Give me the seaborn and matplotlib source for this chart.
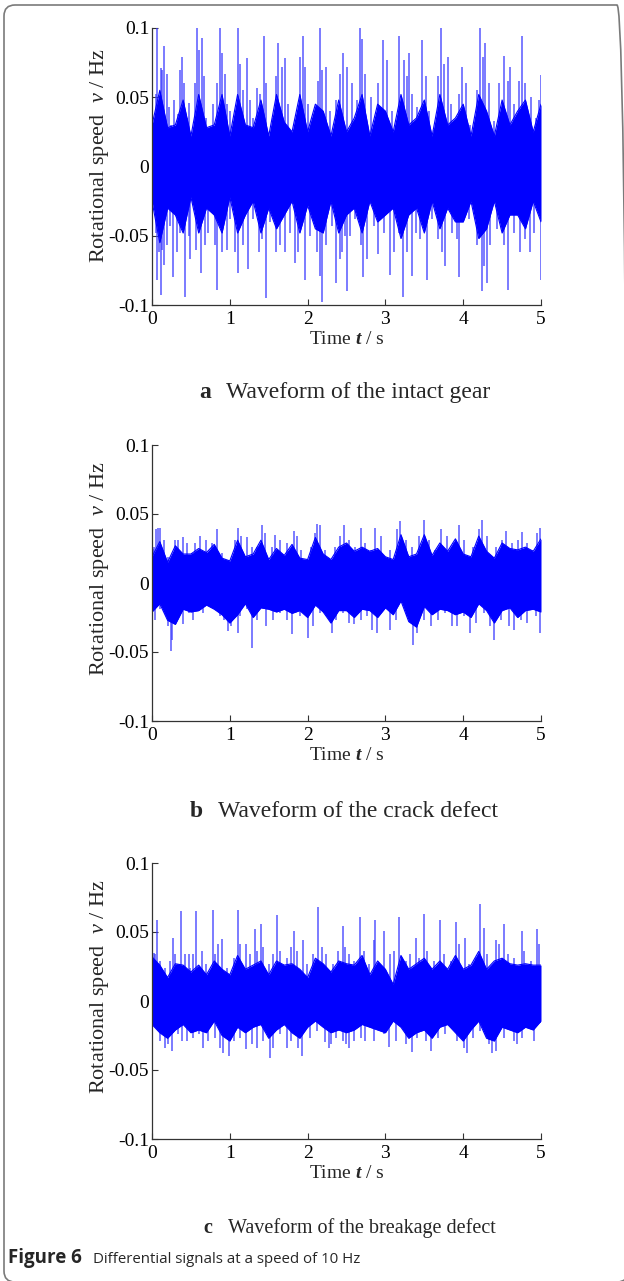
import numpy as np
import pandas as pd
import matplotlib
matplotlib.use("Agg")
import matplotlib.pyplot as plt
import seaborn as sns
from matplotlib.patches import FancyBboxPatch

# ---------------- data ----------------
time_grid = [0.0, 0.1, 0.2, 0.3, 0.4, 0.5, 0.6, 0.7, 0.8, 0.9,
             1.0, 1.1, 1.2, 1.3, 1.4, 1.5, 1.6, 1.7, 1.8, 1.9,
             2.0, 2.1, 2.2, 2.3, 2.4, 2.5, 2.6, 2.7, 2.8, 2.9,
             3.0, 3.1, 3.2, 3.3, 3.4, 3.5, 3.6, 3.7, 3.8, 3.9,
             4.0, 4.1, 4.2, 4.3, 4.4, 4.5, 4.6, 4.7, 4.8, 4.9, 5.0]

# (a) intact gear: dense body envelope, tall spikes, and fringe spikes
a_upper = [0.030, 0.055, 0.028, 0.030, 0.048, 0.022, 0.052, 0.028, 0.030, 0.052,
           0.022, 0.052, 0.030, 0.028, 0.048, 0.022, 0.052, 0.032, 0.025, 0.052,
           0.025, 0.045, 0.040, 0.022, 0.048, 0.025, 0.035, 0.052, 0.022, 0.045,
           0.040, 0.025, 0.052, 0.030, 0.035, 0.048, 0.022, 0.052, 0.030, 0.035,
           0.045, 0.022, 0.052, 0.040, 0.022, 0.048, 0.030, 0.040, 0.048, 0.025, 0.045]
a_lower = [-0.025, -0.055, -0.030, -0.035, -0.048, -0.022, -0.048, -0.030, -0.035, -0.048,
           -0.022, -0.048, -0.035, -0.025, -0.048, -0.030, -0.045, -0.035, -0.025, -0.048,
           -0.028, -0.045, -0.048, -0.025, -0.048, -0.035, -0.030, -0.048, -0.025, -0.040,
           -0.035, -0.030, -0.052, -0.035, -0.030, -0.048, -0.025, -0.045, -0.030, -0.040,
           -0.040, -0.025, -0.052, -0.045, -0.025, -0.048, -0.035, -0.035, -0.045, -0.025, -0.040]
a_peak_t = [0.07, 0.11, 0.16, 0.38, 0.47, 0.58, 0.64, 0.88, 0.90, 1.11, 1.22, 1.35, 1.44,
            1.62, 1.71, 1.90, 1.94, 2.16, 2.24, 2.45, 2.67, 2.70, 2.97, 3.18, 3.30, 3.47,
            3.71, 3.80, 3.99, 4.22, 4.28, 4.52, 4.60, 4.76, 5.00]
a_peak_v = [0.100, 0.071, 0.087, 0.079, 0.046, 0.100, 0.093, 0.100, 0.082, 0.100, 0.078, 0.057, 0.094,
            0.089, 0.078, 0.079, 0.094, 0.100, 0.072, 0.082, 0.100, 0.092, 0.091, 0.094, 0.082, 0.091,
            0.100, 0.079, 0.072, 0.100, 0.089, 0.080, 0.072, 0.094, 0.066]
a_trough_t = [0.07, 0.11, 0.15, 0.27, 0.42, 0.49, 0.63, 0.84, 0.96, 1.11, 1.24, 1.47, 1.59,
              1.71, 1.84, 1.97, 2.16, 2.19, 2.37, 2.42, 2.51, 2.71, 2.91, 3.06, 3.22, 3.34,
              3.54, 3.77, 3.95, 4.24, 4.30, 4.58, 4.73, 4.86, 5.00]
a_trough_v = [-0.082, -0.093, -0.071, -0.080, -0.094, -0.067, -0.077, -0.089, -0.060, -0.077, -0.074, -0.095, -0.062,
              -0.062, -0.070, -0.082, -0.079, -0.098, -0.084, -0.067, -0.090, -0.080, -0.063, -0.078, -0.094, -0.079,
              -0.082, -0.072, -0.080, -0.090, -0.084, -0.089, -0.062, -0.062, -0.082]
a_fringe_up_t = [0.02, 0.05, 0.13, 0.19, 0.22, 0.25, 0.28, 0.33, 0.36, 0.41, 0.45, 0.52, 0.55, 0.61,
                 0.67, 0.70, 0.75, 0.79, 0.84, 0.94, 0.97, 1.00, 1.05, 1.13, 1.17, 1.26, 1.30, 1.39,
                 1.47, 1.52, 1.56, 1.60, 1.67, 1.75, 1.79, 1.84, 1.97, 2.01, 2.05, 2.09, 2.14, 2.19,
                 2.29, 2.33, 2.37, 2.42, 2.51, 2.57, 2.64, 2.74, 2.81, 2.85, 2.91, 3.02, 3.09, 3.13,
                 3.24, 3.28, 3.34, 3.41, 3.52, 3.56, 3.62, 3.67, 3.75, 3.84, 3.90, 3.94, 4.03, 4.09,
                 4.18, 4.26, 4.33, 4.40, 4.46, 4.57, 4.65, 4.72, 4.80, 4.87, 4.93, 4.97]
a_fringe_up_v = [0.013, 0.052, 0.070, 0.067, 0.043, 0.030, 0.048, 0.038, 0.070, 0.060, 0.035, 0.016, 0.060, 0.084,
                 0.065, 0.035, 0.011, 0.045, 0.060, 0.067, 0.045, 0.040, 0.028, 0.074, 0.055, 0.048, 0.035, 0.052,
                 0.060, 0.018, 0.035, 0.065, 0.072, 0.045, 0.016, 0.028, 0.072, 0.045, 0.018, 0.028, 0.062, 0.070,
                 0.040, 0.023, 0.048, 0.067, 0.072, 0.060, 0.048, 0.067, 0.050, 0.023, 0.060, 0.077, 0.040, 0.023,
                 0.077, 0.065, 0.052, 0.043, 0.065, 0.040, 0.026, 0.065, 0.074, 0.045, 0.030, 0.052, 0.060, 0.030,
                 0.055, 0.079, 0.060, 0.033, 0.060, 0.062, 0.045, 0.062, 0.060, 0.050, 0.035, 0.048]
a_fringe_lo_t = [0.02, 0.05, 0.09, 0.13, 0.19, 0.23, 0.32, 0.36, 0.47, 0.53, 0.57, 0.68, 0.72, 0.77,
                 0.81, 0.90, 1.00, 1.07, 1.17, 1.30, 1.37, 1.41, 1.52, 1.65, 1.77, 1.88, 2.03, 2.07,
                 2.12, 2.24, 2.31, 2.44, 2.48, 2.55, 2.61, 2.68, 2.76, 2.85, 2.98, 3.11, 3.17, 3.28,
                 3.39, 3.45, 3.60, 3.67, 3.73, 3.86, 3.92, 4.07, 4.18, 4.27, 4.35, 4.44, 4.52, 4.65,
                 4.80, 4.91]
a_fringe_lo_v = [-0.021, -0.048, -0.062, -0.060, -0.057, -0.043, -0.062, -0.048, -0.050, -0.028, -0.060, -0.057,
                 -0.048, -0.030, -0.057, -0.062, -0.038, -0.062, -0.057, -0.038, -0.062, -0.052, -0.040, -0.057,
                 -0.048, -0.062, -0.050, -0.038, -0.062, -0.057, -0.043, -0.062, -0.050, -0.050, -0.038, -0.057,
                 -0.067, -0.043, -0.048, -0.062, -0.048, -0.062, -0.048, -0.052, -0.038, -0.052, -0.062, -0.048,
                 -0.052, -0.038, -0.057, -0.072, -0.057, -0.045, -0.057, -0.048, -0.052, -0.048]

# (b) crack defect
b_upper = [0.019, 0.030, 0.015, 0.027, 0.021, 0.021, 0.025, 0.022, 0.028, 0.018,
           0.016, 0.031, 0.019, 0.021, 0.031, 0.017, 0.025, 0.020, 0.028, 0.018,
           0.017, 0.033, 0.021, 0.017, 0.026, 0.029, 0.023, 0.026, 0.023, 0.025,
           0.019, 0.017, 0.035, 0.019, 0.021, 0.035, 0.020, 0.029, 0.023, 0.032,
           0.021, 0.019, 0.034, 0.023, 0.018, 0.029, 0.025, 0.024, 0.026, 0.023, 0.032]
b_lower = [-0.021, -0.015, -0.027, -0.030, -0.019, -0.021, -0.020, -0.016, -0.019, -0.023,
           -0.029, -0.023, -0.015, -0.025, -0.018, -0.019, -0.021, -0.019, -0.022, -0.020,
           -0.025, -0.016, -0.021, -0.029, -0.020, -0.020, -0.025, -0.019, -0.020, -0.025,
           -0.018, -0.023, -0.013, -0.028, -0.032, -0.017, -0.023, -0.019, -0.020, -0.023,
           -0.021, -0.025, -0.015, -0.020, -0.029, -0.020, -0.018, -0.025, -0.020, -0.019, -0.021]
b_peak_t = [0.01, 0.08, 0.10, 0.30, 0.40, 0.62, 0.83, 1.11, 1.22, 1.42, 1.58, 1.82, 2.12,
            2.16, 2.47, 2.69, 2.87, 3.19, 3.50, 3.71, 3.94, 4.24, 4.55, 4.76, 4.99]
b_peak_v = [0.025, 0.040, 0.040, 0.031, 0.033, 0.034, 0.039, 0.040, 0.033, 0.042, 0.035, 0.038, 0.043,
            0.042, 0.042, 0.040, 0.040, 0.045, 0.046, 0.039, 0.042, 0.046, 0.038, 0.037, 0.040]
b_trough_t = [0.00, 0.25, 0.26, 0.40, 0.88, 0.98, 1.10, 1.29, 1.47, 1.80, 2.00, 2.16,
              2.31, 2.59, 2.89, 3.06, 3.36, 3.58, 3.92, 4.09, 4.40, 4.65, 4.99]
b_trough_v = [-0.035, -0.049, -0.041, -0.030, -0.024, -0.035, -0.036, -0.047, -0.031, -0.037, -0.040, -0.022,
              -0.036, -0.030, -0.036, -0.034, -0.045, -0.031, -0.031, -0.036, -0.041, -0.034, -0.036]
b_fringe_up_t = [0.02, 0.05, 0.15, 0.21, 0.34, 0.45, 0.51, 0.55, 0.70, 0.77, 0.90, 0.96, 1.07, 1.15,
                 1.28, 1.35, 1.45, 1.54, 1.65, 1.73, 1.86, 1.92, 2.05, 2.09, 2.22, 2.35, 2.42, 2.53,
                 2.61, 2.74, 2.81, 2.94, 3.06, 3.15, 3.26, 3.34, 3.43, 3.56, 3.64, 3.79, 3.88, 4.01,
                 4.12, 4.20, 4.31, 4.42, 4.50, 4.63, 4.70, 4.82, 4.89, 4.95]
b_fringe_up_v = [0.026, 0.039, 0.031, 0.019, 0.031, 0.029, 0.022, 0.029, 0.031, 0.029, 0.022, 0.017, 0.031, 0.034,
                 0.026, 0.026, 0.036, 0.026, 0.031, 0.029, 0.034, 0.024, 0.026, 0.036, 0.024, 0.026, 0.034, 0.031,
                 0.026, 0.029, 0.024, 0.034, 0.024, 0.039, 0.031, 0.026, 0.034, 0.031, 0.024, 0.034, 0.029, 0.031,
                 0.026, 0.039, 0.034, 0.026, 0.031, 0.029, 0.031, 0.029, 0.024, 0.036]
b_fringe_lo_t = [0.04, 0.10, 0.21, 0.32, 0.47, 0.53, 0.66, 0.77, 0.92, 1.02, 1.13, 1.22, 1.35, 1.56,
                 1.65, 1.73, 1.90, 2.07, 2.24, 2.37, 2.46, 2.53, 2.68, 2.76, 2.83, 2.98, 3.13, 3.28,
                 3.41, 3.49, 3.67, 3.77, 3.86, 4.01, 4.16, 4.27, 4.35, 4.48, 4.59, 4.74, 4.82, 4.93]
b_fringe_lo_v = [-0.027, -0.019, -0.031, -0.024, -0.022, -0.027, -0.022, -0.017, -0.027, -0.031, -0.024, -0.019,
                 -0.027, -0.027, -0.022, -0.027, -0.024, -0.031, -0.022, -0.027, -0.022, -0.029, -0.027, -0.024,
                 -0.034, -0.019, -0.027, -0.024, -0.036, -0.027, -0.027, -0.022, -0.031, -0.024, -0.029, -0.022,
                 -0.031, -0.027, -0.031, -0.027, -0.029, -0.024]

# (c) breakage defect
c_upper = [0.032, 0.026, 0.017, 0.027, 0.026, 0.021, 0.026, 0.019, 0.029, 0.023,
           0.019, 0.033, 0.023, 0.026, 0.029, 0.019, 0.029, 0.026, 0.027, 0.023,
           0.017, 0.031, 0.027, 0.021, 0.029, 0.027, 0.026, 0.033, 0.019, 0.029,
           0.023, 0.012, 0.033, 0.023, 0.027, 0.031, 0.023, 0.029, 0.023, 0.033,
           0.023, 0.026, 0.036, 0.023, 0.029, 0.031, 0.027, 0.026, 0.027, 0.026, 0.026]
c_lower = [-0.017, -0.023, -0.027, -0.021, -0.017, -0.023, -0.021, -0.023, -0.0145, -0.025,
           -0.029, -0.019, -0.023, -0.019, -0.017, -0.027, -0.021, -0.017, -0.023, -0.027,
           -0.019, -0.0145, -0.019, -0.023, -0.021, -0.023, -0.021, -0.017, -0.019, -0.021,
           -0.023, -0.0145, -0.019, -0.027, -0.023, -0.021, -0.027, -0.019, -0.017, -0.023,
           -0.029, -0.021, -0.0145, -0.027, -0.029, -0.019, -0.021, -0.023, -0.019, -0.021, -0.0145]
c_peak_t = [0.02, 0.06, 0.27, 0.37, 0.47, 0.57, 0.78, 0.90, 1.10, 1.21, 1.32, 1.40, 1.61,
            1.82, 1.94, 2.14, 2.45, 2.67, 2.87, 2.98, 3.18, 3.39, 3.49, 3.70, 3.91, 4.02,
            4.22, 4.42, 4.53, 4.75, 4.95]
c_peak_v = [0.035, 0.059, 0.046, 0.065, 0.034, 0.065, 0.066, 0.045, 0.066, 0.041, 0.052, 0.056, 0.062,
            0.051, 0.044, 0.068, 0.054, 0.061, 0.059, 0.051, 0.061, 0.046, 0.063, 0.059, 0.057, 0.046,
            0.070, 0.044, 0.056, 0.051, 0.052]
c_trough_t = [0.00, 0.17, 0.26, 0.39, 0.66, 0.91, 0.99, 1.21, 1.35, 1.52, 1.73, 1.93,
              2.22, 2.30, 2.53, 2.74, 3.04, 3.34, 3.59, 4.05, 4.37, 4.69, 5.00]
c_trough_v = [-0.017, -0.034, -0.036, -0.029, -0.034, -0.038, -0.040, -0.035, -0.034, -0.041, -0.034, -0.040,
              -0.030, -0.031, -0.034, -0.029, -0.033, -0.037, -0.036, -0.038, -0.038, -0.031, -0.016]
c_fringe_up_t = [0.04, 0.10, 0.17, 0.23, 0.30, 0.34, 0.42, 0.49, 0.53, 0.64, 0.70, 0.81, 0.85, 0.96,
                 1.05, 1.13, 1.26, 1.35, 1.43, 1.50, 1.56, 1.65, 1.73, 1.79, 1.86, 1.99, 2.07, 2.18,
                 2.24, 2.33, 2.39, 2.48, 2.53, 2.59, 2.72, 2.79, 2.85, 2.91, 3.06, 3.11, 3.26, 3.32,
                 3.43, 3.54, 3.62, 3.75, 3.84, 3.94, 4.07, 4.16, 4.27, 4.31, 4.46, 4.57, 4.65, 4.78,
                 4.87, 4.97]
c_fringe_up_v = [0.034, 0.029, 0.024, 0.029, 0.034, 0.027, 0.034, 0.024, 0.034, 0.036, 0.027, 0.034, 0.041, 0.024,
                 0.031, 0.041, 0.034, 0.036, 0.039, 0.027, 0.034, 0.036, 0.031, 0.039, 0.036, 0.027, 0.034, 0.039,
                 0.034, 0.027, 0.036, 0.039, 0.034, 0.029, 0.036, 0.027, 0.044, 0.024, 0.034, 0.036, 0.029, 0.034,
                 0.031, 0.036, 0.029, 0.034, 0.029, 0.041, 0.027, 0.031, 0.053, 0.034, 0.041, 0.034, 0.031, 0.036,
                 0.029, 0.041]
c_fringe_lo_t = [0.04, 0.10, 0.21, 0.34, 0.45, 0.53, 0.60, 0.72, 0.81, 0.87, 1.05, 1.13, 1.28, 1.43,
                 1.56, 1.65, 1.79, 1.88, 2.03, 2.12, 2.27, 2.37, 2.46, 2.49, 2.59, 2.68, 2.85, 2.98,
                 3.13, 3.26, 3.41, 3.52, 3.67, 3.77, 3.92, 4.01, 4.12, 4.22, 4.33, 4.42, 4.52, 4.65,
                 4.76, 4.91]
c_fringe_lo_v = [-0.019, -0.029, -0.031, -0.024, -0.029, -0.027, -0.024, -0.029, -0.027, -0.034, -0.029, -0.027,
                 -0.031, -0.029, -0.034, -0.024, -0.029, -0.034, -0.027, -0.022, -0.034, -0.027, -0.029, -0.031,
                 -0.029, -0.027, -0.029, -0.024, -0.029, -0.031, -0.027, -0.029, -0.027, -0.024, -0.029, -0.034,
                 -0.027, -0.022, -0.031, -0.036, -0.027, -0.029, -0.027, -0.029]

x_ticks = [0, 1, 2, 3, 4, 5]
x_tick_labels = ["0", "1", "2", "3", "4", "5"]
y_ticks = [-0.1, -0.05, 0.0, 0.05, 0.1]
y_tick_labels = ["-0.1", "-0.05", "0", "0.05", "0.1"]

panel_letters = ["a", "b", "c"]
panel_titles = ["Waveform of the intact gear", "Waveform of the crack defect",
                "Waveform of the breakage defect"]
figure_label = "Figure 6"
figure_caption = "Differential signals at a speed of 10 Hz"

# ---------------- style ----------------
sns.set_theme(style="ticks")
plt.rcParams["font.family"] = ["Liberation Serif", "DejaVu Serif"]
plt.rcParams["mathtext.fontset"] = "custom"
plt.rcParams["mathtext.rm"] = "Liberation Serif"
plt.rcParams["mathtext.it"] = "Liberation Serif:italic"
plt.rcParams["mathtext.bf"] = "Liberation Serif:bold"
try:
    plt.rcParams["mathtext.bfit"] = "Liberation Serif:bold:italic"
    XLAB = r"Time $\mathbfit{t}$ / s"
except KeyError:
    XLAB = r"Time $\mathit{t}$ / s"

W, H = 624, 1281
BLUE = "#0000ff"
SPIKE = "#3a3aff"
fig = plt.figure(figsize=(W / 100, H / 100), dpi=100)
fig.patch.set_facecolor("white")


def rect(left, top, right, bottom):
    return [left / W, 1 - bottom / H, (right - left) / W, (bottom - top) / H]


panels = [
    (rect(152, 28, 541, 305), a_upper, a_lower, 0.538,
     [(a_peak_t, a_peak_v), (a_trough_t, a_trough_v), (a_fringe_up_t, a_fringe_up_v), (a_fringe_lo_t, a_fringe_lo_v)]),
    (rect(152, 445, 541, 721), b_upper, b_lower, 0.553,
     [(b_peak_t, b_peak_v), (b_trough_t, b_trough_v), (b_fringe_up_t, b_fringe_up_v), (b_fringe_lo_t, b_fringe_lo_v)]),
    (rect(152, 863, 541, 1139), c_upper, c_lower, 0.553,
     [(c_peak_t, c_peak_v), (c_trough_t, c_trough_v), (c_fringe_up_t, c_fringe_up_v), (c_fringe_lo_t, c_fringe_lo_v)]),
]

for pos, up, lo, ylab_y, spikes in panels:
    ax = fig.add_axes(pos)
    df = pd.DataFrame({"t": time_grid, "upper": up, "lower": lo})
    for st, sv in spikes:
        ax.vlines(st, 0, sv, color=SPIKE, lw=1.1, alpha=0.85, zorder=1.5)
    ax.fill_between(df["t"], df["lower"], df["upper"], color=BLUE, lw=0, zorder=2)
    sns.lineplot(data=df, x="t", y="upper", ax=ax, color=BLUE, lw=0.8, zorder=2.1)
    sns.lineplot(data=df, x="t", y="lower", ax=ax, color=BLUE, lw=0.8, zorder=2.1)
    ax.set_xlim(0, 5)
    ax.set_ylim(-0.1, 0.1)
    ax.set_xticks(x_ticks)
    ax.set_xticklabels(x_tick_labels)
    ax.set_yticks(y_ticks)
    ax.set_yticklabels(y_tick_labels)
    sns.despine(ax=ax)
    for s in ("left", "bottom"):
        ax.spines[s].set_color("#333333")
        ax.spines[s].set_linewidth(0.9)
        ax.spines[s].set_zorder(3)
    ax.tick_params(axis="both", direction="in", length=4, width=0.8, colors="#333333",
                   labelsize=14, labelcolor="black")
    ax.tick_params(axis="x", pad=4)
    ax.tick_params(axis="y", pad=2)
    ax.set_xlabel(XLAB, fontsize=14)
    ax.set_ylabel(r"Rotational speed  $\mathit{v}$ / Hz", fontsize=16)
    ax.xaxis.label.set_va("center")
    ax.yaxis.label.set_va("center")
    ax.xaxis.set_label_coords(0.5, -0.126)
    ax.yaxis.set_label_coords(-0.134, ylab_y)
    ax.grid(False)

# panel captions
cap = [(199, 226, 398, 17), (190, 218, 817, 17), (203, 228, 1233, 14.5)]
for (lx, tx, by, fs), letter, title in zip(cap, panel_letters, panel_titles):
    fig.text(lx / W, 1 - by / H, letter, fontsize=fs, fontweight="bold", va="baseline", ha="left")
    fig.text(tx / W, 1 - by / H, title, fontsize=fs, va="baseline", ha="left")

# figure caption
fig.text(8 / W, 1 - 1263 / H, figure_label, fontsize=13.5, fontweight="bold",
         family=["Open Sans", "DejaVu Sans"], va="baseline", ha="left")
fig.text(93 / W, 1 - 1263 / H, figure_caption, fontsize=10.8,
         family=["Open Sans", "DejaVu Sans"], va="baseline", ha="left")

# rounded frame in figure-fraction coordinates (right/bottom edges run off the page)
r = 11 / W
frame = FancyBboxPatch((4 / W, -1 / H), (628 - 4) / W, (H - 5 + 1) / H,
                       boxstyle=f"round,pad=0,rounding_size={r}",
                       mutation_aspect=W / H, transform=fig.transFigure,
                       fill=False, ec="#7a7a7a", lw=1.2, clip_on=False)
fig.add_artist(frame)

fig.savefig("out.png", dpi=100, facecolor="white")
